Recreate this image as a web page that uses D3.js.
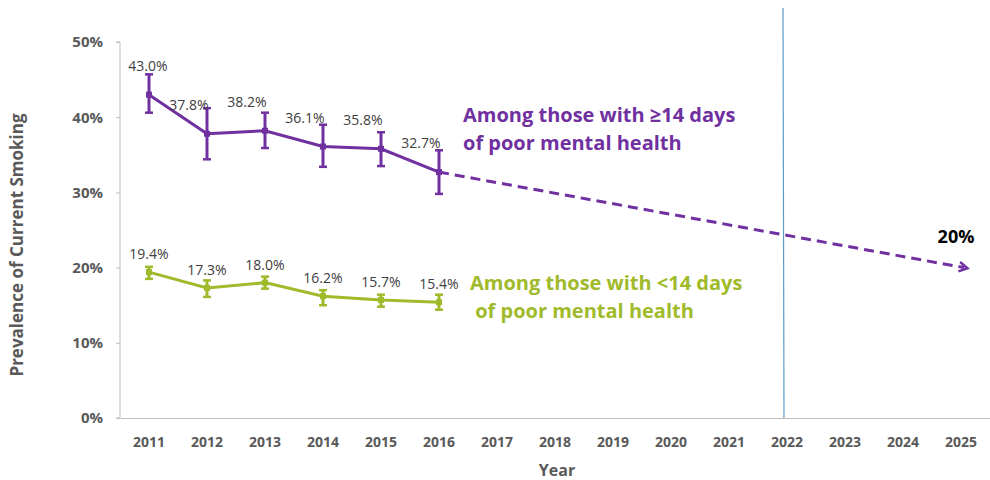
<!DOCTYPE html>
<html>
<head>
<meta charset="utf-8">
<script src="https://cdn.jsdelivr.net/npm/d3@7"></script>
<style>
  body { margin: 0; background: #fff; }
  svg text { font-family: "Open Sans", "Lato", sans-serif; }
  .axis path, .axis line { stroke: #bfbfbf; }
</style>
</head>
<body>
<div id="chart"></div>
<script>
// data
var years = ["2011", "2012", "2013", "2014", "2015", "2016", "2017", "2018", "2019", "2020", "2021", "2022", "2023", "2024", "2025"];
var obsYears = ["2011", "2012", "2013", "2014", "2015", "2016"];
var poorValues = [43.0, 37.8, 38.2, 36.1, 35.8, 32.7];
var poorLow = [40.6, 34.4, 35.9, 33.4, 33.5, 29.8];
var poorHigh = [45.7, 41.2, 40.6, 39.0, 38.0, 35.6];
var goodValues = [19.4, 17.3, 18.0, 16.2, 15.7, 15.4];
var goodLow = [18.5, 16.1, 17.2, 15.0, 14.8, 14.4];
var goodHigh = [20.1, 18.3, 18.8, 17.0, 16.4, 16.4];
var targetYear = "2025";
var targetValue = 20;
var markerYear = "2022";
var yTicks = [0, 10, 20, 30, 40, 50];

var width = 990, height = 480;
var purple = "#7030a0", green = "#9fba2a", grey = "#595959";

var svg = d3.select("#chart").append("svg")
    .attr("width", width)
    .attr("height", height);

var xScale = d3.scaleBand().domain(years).range([120, 990]).padding(0);
var yScale = d3.scaleLinear().domain([0, 50]).range([418, 42]);
function cx(yr) { return xScale(yr) + xScale.bandwidth() / 2; }

// arrow marker
svg.append("defs").append("marker")
    .attr("id", "arrow")
    .attr("viewBox", "0 0 10 10")
    .attr("refX", 5).attr("refY", 5)
    .attr("markerWidth", 4).attr("markerHeight", 4)
    .attr("orient", "auto")
    .append("path")
    .attr("d", "M1,1 L8,5 L1,9")
    .attr("fill", "none")
    .attr("stroke", purple)
    .attr("stroke-width", 2);

// axes
var yAxis = d3.axisLeft(yScale).tickValues(yTicks).tickFormat(function(d) { return d + "%"; })
    .tickSize(4).tickPadding(13);
var yg = svg.append("g").attr("class", "axis")
    .attr("transform", "translate(120,0)")
    .call(yAxis);
yg.select(".domain").attr("d", "M-4,42H0V418H-4");
yg.selectAll("text").attr("fill", grey).attr("font-size", 15).attr("font-weight", "bold");

var xAxis = d3.axisBottom(xScale).tickSize(0).tickPadding(19);
var xg = svg.append("g").attr("class", "axis")
    .attr("transform", "translate(0,418)")
    .call(xAxis);
xg.selectAll("text").attr("fill", grey).attr("font-size", 14).attr("font-weight", "bold");

svg.append("text")
    .attr("transform", "translate(23,245) rotate(-90)")
    .attr("text-anchor", "middle")
    .attr("fill", grey).attr("font-size", 17).attr("font-weight", "bold")
    .text("Prevalence of Current Smoking");

svg.append("text")
    .attr("x", 557).attr("y", 476)
    .attr("text-anchor", "middle")
    .attr("fill", grey).attr("font-size", 16).attr("font-weight", "bold")
    .text("Year");

// vertical marker line
svg.append("line")
    .attr("x1", cx(markerYear) - 4).attr("x2", cx(markerYear) - 3)
    .attr("y1", 8).attr("y2", 418)
    .attr("stroke", "#5b9bc8").attr("stroke-width", 1.2);

// projection
svg.append("line")
    .attr("x1", cx(obsYears[obsYears.length - 1]))
    .attr("y1", yScale(poorValues[poorValues.length - 1]))
    .attr("x2", cx(targetYear) + 3)
    .attr("y2", yScale(targetValue))
    .attr("stroke", purple).attr("stroke-width", 3)
    .attr("stroke-dasharray", "10,6")
    .attr("marker-end", "url(#arrow)");

svg.append("text")
    .attr("x", cx(targetYear) - 5).attr("y", yScale(targetValue) - 25)
    .attr("text-anchor", "middle")
    .attr("fill", "#000").attr("font-size", 18).attr("font-weight", "bold")
    .text(targetValue + "%");

function drawSeries(values, low, high, color, labelDx, labelDy) {
    var pts = obsYears.map(function(y, i) { return { year: y, v: values[i], lo: low[i], hi: high[i], i: i }; });
    var line = d3.line().x(function(d) { return cx(d.year); }).y(function(d) { return yScale(d.v); });
    svg.append("path").datum(pts)
        .attr("d", line)
        .attr("fill", "none")
        .attr("stroke", color).attr("stroke-width", 3);

    var g = svg.append("g").selectAll("g").data(pts).enter().append("g");
    g.append("line")
        .attr("x1", function(d) { return cx(d.year); }).attr("x2", function(d) { return cx(d.year); })
        .attr("y1", function(d) { return yScale(d.lo); }).attr("y2", function(d) { return yScale(d.hi); })
        .attr("stroke", color).attr("stroke-width", 3);
    [function(d) { return yScale(d.lo); }, function(d) { return yScale(d.hi); }].forEach(function(fy) {
        g.append("line")
            .attr("x1", function(d) { return cx(d.year) - 4; }).attr("x2", function(d) { return cx(d.year) + 4; })
            .attr("y1", fy).attr("y2", fy)
            .attr("stroke", color).attr("stroke-width", 2.5);
    });
    g.append("rect")
        .attr("x", function(d) { return cx(d.year) - 3; })
        .attr("y", function(d) { return yScale(d.v) - 3; })
        .attr("width", 6).attr("height", 6)
        .attr("fill", color);
    g.append("text")
        .attr("x", function(d) { return cx(d.year) + labelDx(d.i); })
        .attr("y", function(d) { return yScale(d.v) + labelDy; })
        .attr("text-anchor", "middle")
        .attr("fill", "#404040").attr("font-size", 14)
        .text(function(d) { return d.v.toFixed(1) + "%"; });
}

drawSeries(poorValues, poorLow, poorHigh, purple, function(i) { return i === 0 ? -1 : -18; }, -24);
drawSeries(goodValues, goodLow, goodHigh, green, function(i) { return 0; }, -13);

// series labels
function seriesLabel(x, y, lines, color) {
    var t = svg.append("text")
        .attr("fill", color).attr("font-size", 20).attr("font-weight", "bold");
    lines.forEach(function(s, i) {
        t.append("tspan").attr("x", x).attr("y", y + i * 28).text(s);
    });
}
seriesLabel(463, 122, ["Among those with \u226514 days", "of poor mental health"], purple);
seriesLabel(470, 290, ["Among those with <14 days", " of poor mental health"], green);
</script>
</body>
</html>
